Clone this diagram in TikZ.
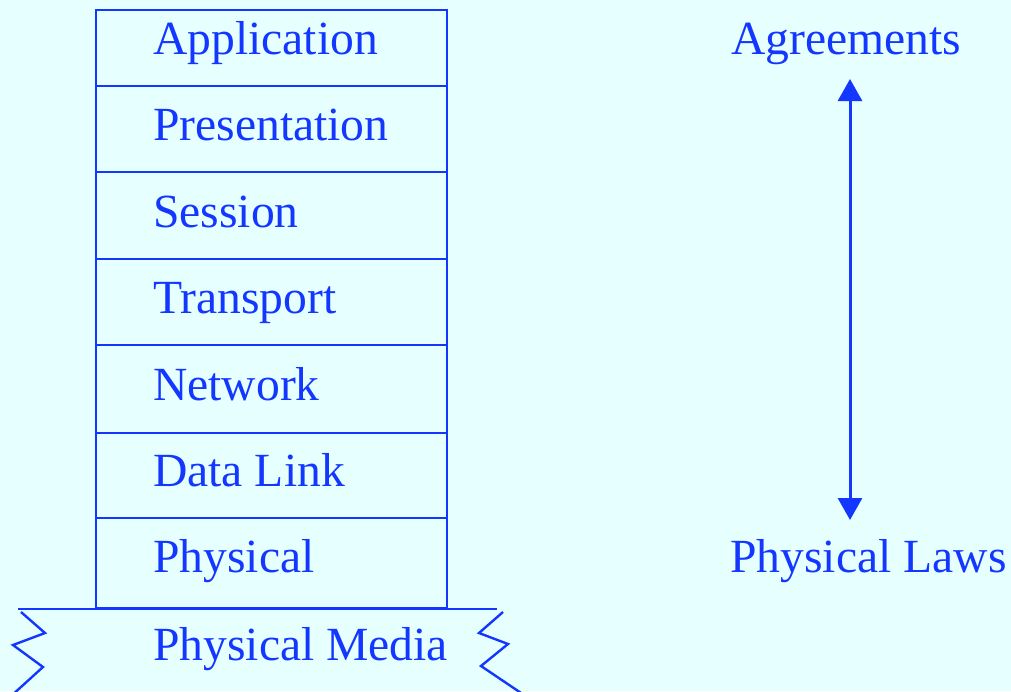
\documentclass[tikz,border=0pt]{standalone}
\usepackage{fontspec}
\setmainfont{Liberation Serif}
\usetikzlibrary{arrows.meta}
\definecolor{bgcyan}{RGB}{230,255,255}
\definecolor{osiblue}{RGB}{20,55,255}
\begin{document}
\begin{tikzpicture}[x=1pt,y=-1pt,
  layerline/.style={draw=osiblue,line width=2.4pt},
  label/.style={text=osiblue,anchor=base west,inner sep=0pt,
    font=\fontsize{47.6}{50}\selectfont},
  bothways/.style={draw=osiblue,line width=3pt,
    {Triangle[length=22pt,width=24pt]}-{Triangle[length=22pt,width=24pt]}}]
  % page
  \fill[bgcyan] (0,0) rectangle (1011,691);
  \useasboundingbox (0,0) rectangle (1011,691);
  \begin{scope}
    \clip (0,0) rectangle (1011,691);
    % layer stack
    \draw[layerline] (96,10) rectangle (447,608);
    \foreach \yy in {86,172,259,345,433,518}
      \draw[layerline] (96,\yy) -- (447,\yy);
    % physical media strip with torn ends
    \draw[layerline] (18,609) -- (497,609);
    \draw[layerline] (21,612) -- (45,633) -- (13,645) -- (43,667) -- (10,697);
    \draw[layerline] (503,612) -- (479,633) -- (508,644) -- (481,666) -- (527,697);
  \end{scope}
  % layer names
  \node[label] (app)  at (153,54)  {Application};
  \node[label] (pres) at (153,140) {Presentation};
  \node[label] (sess) at (153,227) {Session};
  \node[label] (trans) at (153,313) {Transport};
  \node[label] (net)  at (153,400) {Network};
  \node[label] (dl)   at (153,486) {Data Link};
  \node[label] (phys) at (153,572) {Physical};
  \node[label] (media) at (153,660) {Physical Media};
  % scale between agreements and physical laws
  \node[label] (agree) at (731,54) {Agreements};
  \node[label] (laws) at (730,572) {Physical Laws};
  \coordinate (arrTop) at (850,79);
  \coordinate (arrBot) at (850,520);
  \draw[bothways] (arrTop) -- (arrBot);
\end{tikzpicture}
\end{document}
